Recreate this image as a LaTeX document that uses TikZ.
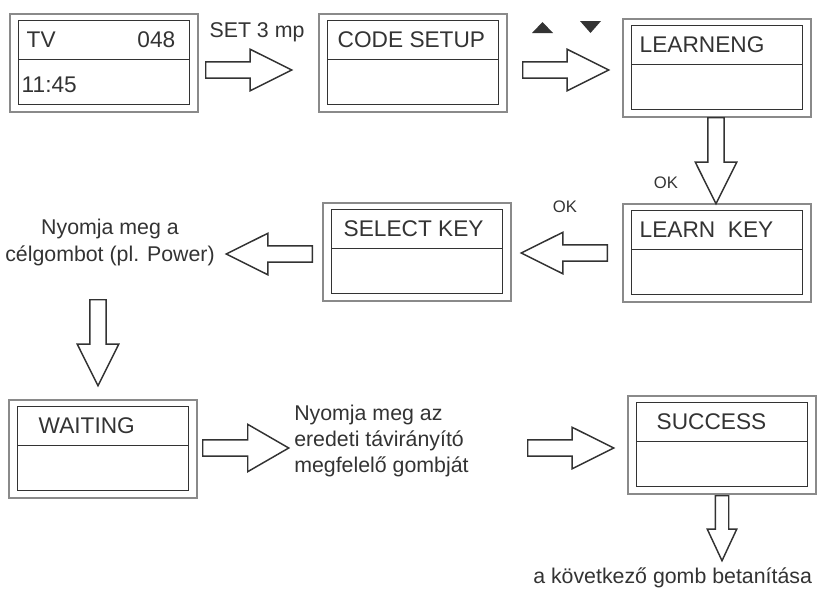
\documentclass[tikz,border=0pt]{standalone}
\usepackage{fontspec}
\setmainfont{Liberation Sans}
\usetikzlibrary{shapes.arrows, calc, positioning}
\definecolor{ink}{HTML}{333333}
\definecolor{frame}{HTML}{8A8A8A}

\tikzset{
  screen/.style={draw=frame, line width=0.8pt, minimum width=141pt,
                 minimum height=73.5pt, inner sep=0pt},
  lcd/.style={draw=ink, line width=1.1pt},
  blockarrow/.style={single arrow, draw=ink, line width=1.1pt, fill=white,
                     inner sep=5.6pt, anchor=tail,
                     minimum height=64.5pt, single arrow head extend=9.4pt,
                     single arrow tip angle=53},
  lbl/.style={font=\fontsize{17}{20}\selectfont, text=ink, inner sep=0pt},
  note/.style={font=\fontsize{16}{20}\selectfont, text=ink, inner sep=0pt},
  oklbl/.style={font=\fontsize{12.5}{15}\selectfont, text=ink, inner sep=0pt}
}

\begin{document}
\begin{tikzpicture}[x=0.75pt, y=-0.75pt]
  \useasboundingbox (0,0) rectangle (820,590);
  % Screens
  \foreach \n/\x/\y/\dx/\lbl in {tv/104/63/17/TV, code/413/63/19/CODE SETUP,
      learn/717/68/17/LEARNENG, lkey/717/253/17/{LEARN\ \ KEY},
      skey/417/252/21/SELECT KEY, wait/103/449/30/WAITING, succ/722/445/29/SUCCESS}{
    \node[screen] (\n) at (\x,\y) {};
    \draw[lcd] ($(\n.north west)+(9,7)$) rectangle ($(\n.south east)+(-9,-8)$);
    \draw[lcd] ($(\n.north west)+(9,46)$) -- ($(\n.north east)+(-9,46)$);
    \node[lbl, anchor=west] (\n-t) at ($(\n.north west)+(\dx,26)$) {\lbl};
  }
  \node[lbl, anchor=east] (tv-ch) at ($(tv.north east)+(-23,26)$) {048};
  \node[lbl, anchor=west] (tv-clock) at ($(tv.north west)+(12,71)$) {11:45};

  % Arrows
  \foreach \n/\x/\y/\r in {a1/205/70/0, a2/522/70/0, a3/716/117/270, a4/608/253/180,
      a5/313/254/180, a6/98/299/270, a8/527/448/0}
    \node[blockarrow, shape border rotate=\r] (\n) at (\x,\y) {};
  \node[blockarrow, single arrow head extend=11.6pt,
        single arrow tip angle=60] (a7) at (202,448) {};
  \node[blockarrow, inner sep=4.5pt, minimum height=48.75pt,
        single arrow head extend=6pt, single arrow tip angle=50,
        shape border rotate=270] (a9) at (722,495) {};

  % Keys
  \fill[ink] (532,33) -- (553,33) -- (542.5,22) -- cycle;
  \fill[ink] (580,21) -- (601,21) -- (590.5,33) -- cycle;

  % Texts
  \node[note] (set) at (257,32) {SET 3 mp};
  \node[oklbl] (ok1) at (666,183) {OK};
  \node[oklbl] (ok2) at (565,207) {OK};
  \node[note, align=center] (press) at (110,242.5) {Nyomja meg a\\célgombot (pl. Power)};
  \node[note, align=left, anchor=west, font=\fontsize{16}{19.5}\selectfont] (orig)
    at (294,441) {Nyomja meg az\\eredeti távirányító\\megfelelő gombját};
  \node[note, anchor=west, font=\fontsize{16}{20}\selectfont] (next)
    at (533,578) {a következő gomb betanítása};
\end{tikzpicture}
\end{document}
